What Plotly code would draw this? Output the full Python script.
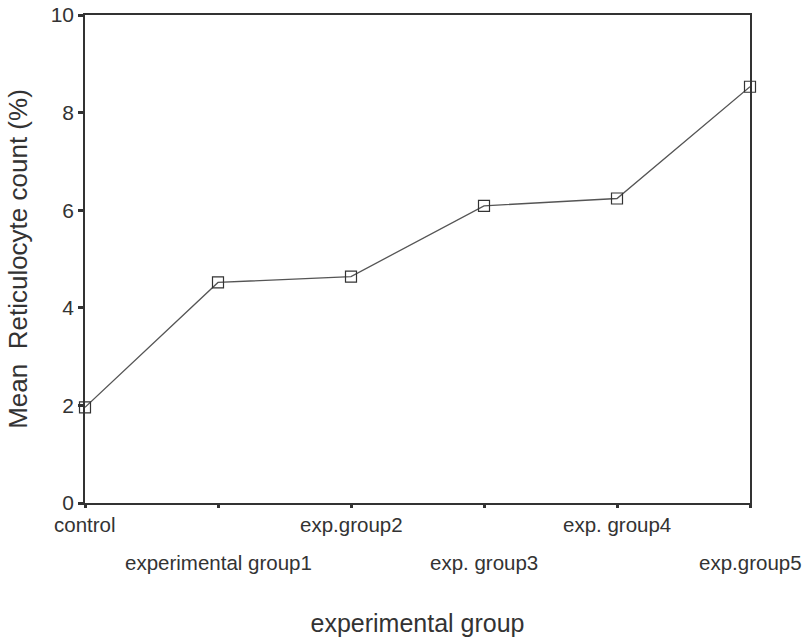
import plotly.graph_objects as go

# data
groups = ["control", "experimental group1", "exp.group2", "exp. group3", "exp. group4", "exp.group5"]
mean_retic = [1.96, 4.52, 4.64, 6.09, 6.24, 8.53]
y_ticks = [0, 2, 4, 6, 8, 10]

positions = list(range(len(groups)))
ink = "#333333"
font_name = "Liberation Sans, Arial, sans-serif"

fig = go.Figure()

fig.add_trace(go.Scatter(
    x      = positions,
    y      = mean_retic,
    mode   = "lines+markers",
    line   = dict(color="#555555", width=1.3),
    marker = dict(symbol="square-open", size=11, color=ink, line=dict(width=1.2)),
    cliponaxis = False,
    showlegend = False,
))

# staggered category labels: even ones on the first row, odd ones lower
for i, label in enumerate(groups):
    fig.add_annotation(
        x=positions[i], y=0, xref="x", yref="paper",
        text=label, showarrow=False,
        xanchor="center", yanchor="top",
        yshift=-8 if i % 2 == 0 else -46,
        font=dict(size=20.5, color=ink, family=font_name),
    )

fig.update_layout(
    width  = 807,
    height = 641,
    margin = dict(l=85, r=57, t=15, b=138),
    plot_bgcolor  = "white",
    paper_bgcolor = "white",
    font = dict(family=font_name, color=ink),
    xaxis = dict(
        range=[0, 5], tickvals=positions, ticktext=[""] * len(groups),
        ticks="outside", ticklen=3, tickwidth=3, tickcolor=ink,
        showline=True, linecolor=ink, linewidth=1.5, mirror=True,
        showgrid=False, zeroline=False, automargin=False,
        title=dict(text="experimental group", font=dict(size=25), standoff=105),
    ),
    yaxis = dict(
        range=[0, 10], tickvals=y_ticks,
        ticks="outside", ticklen=5, tickwidth=3, tickcolor=ink,
        tickfont=dict(size=21),
        showline=True, linecolor=ink, linewidth=1.5, mirror=True,
        showgrid=False, zeroline=False, automargin=False,
        title=dict(text="Mean  Reticulocyte count (%)", font=dict(size=26), standoff=16),
    ),
)

# drop the default body margin so the figure sits at the window's corner
fig.write_html(
    "out.html",
    config={"displayModeBar": False},
    post_script="document.body.style.margin='0';",
)
